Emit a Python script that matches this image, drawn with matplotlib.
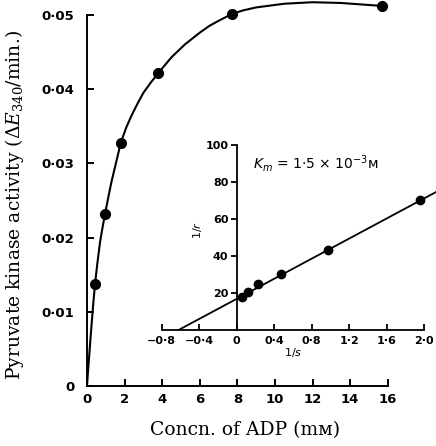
import matplotlib
matplotlib.use('Agg')
import matplotlib.pyplot as plt

# Datos de la curva principal (actividad frente a [ADP])
adp = [0.43, 0.96, 1.8, 3.78, 7.7, 15.7]
actividad = [0.0138, 0.0232, 0.0328, 0.0421, 0.0501, 0.0512]

# Curva trazada a mano
curva_x = [0, 0.05, 0.1, 0.18, 0.25, 0.33, 0.43, 0.55, 0.7, 0.83, 0.96, 1.1,
           1.3, 1.5, 1.8, 2.1, 2.4, 2.7, 3.0, 3.4, 3.78, 4.1, 4.5, 5.2, 6.0,
           6.5, 7.0, 7.7, 8.3, 9.0, 10.5, 12.0, 13.5, 14.6, 15.7]
curva_y = [0, 0.0018, 0.0035, 0.0062, 0.0085, 0.0110, 0.0138, 0.0165, 0.0195,
           0.0214, 0.0232, 0.0250, 0.0275, 0.0296, 0.0328, 0.0349, 0.0366,
           0.0381, 0.0395, 0.0409, 0.0421, 0.0431, 0.0443, 0.0460, 0.0476,
           0.0485, 0.0492, 0.0501, 0.0506, 0.0510, 0.0515, 0.0517, 0.0516,
           0.0514, 0.0512]

# Datos del recuadro (doble recíproco)
inv_s = [0.053, 0.124, 0.224, 0.472, 0.97, 1.955]
inv_v = [18.0, 20.4, 24.9, 30.3, 43.2, 70.6]
recta_x = [-0.62, 2.13]
recta_y = [0, 74.8]

xticks_main = [0, 2, 4, 6, 8, 10, 12, 14, 16]
yticks_main = [0, 0.01, 0.02, 0.03, 0.04, 0.05]
ylabels_main = ['0', '0·01', '0·02', '0·03', '0·04', '0·05']
xticks_ins = [-0.8, -0.4, 0, 0.4, 0.8, 1.2, 1.6, 2.0]
xlabels_ins = ['−0·8', '−0·4', '0', '0·4', '0·8', '1·2', '1·6', '2·0']
yticks_ins = [20, 40, 60, 80, 100]

plt.rcParams['mathtext.fontset'] = 'dejavuserif'

fig = plt.figure(figsize=(4.36, 4.46), dpi=100)

# Gráfico principal
ax = fig.add_axes([87/436, 1 - 386/446, 329/436, 386/446])
ax.plot(curva_x, curva_y, color='black', lw=1.5)
ax.plot(adp, actividad, 'o', color='black', ms=7, clip_on=False)
ax.set_xlim(0, 17.5)
ax.set_ylim(0, 0.052)
ax.spines['top'].set_visible(False)
ax.spines['right'].set_visible(False)
ax.spines['left'].set_bounds(0, 0.05)
ax.spines['bottom'].set_bounds(0, 16)
for s in ['left', 'bottom']:
    ax.spines[s].set_linewidth(1.4)
ax.set_xticks(xticks_main)
ax.set_xticklabels([str(t) for t in xticks_main], fontweight='bold')
ax.set_yticks(yticks_main)
ax.set_yticklabels(ylabels_main, fontweight='bold')
ax.tick_params(direction='in', length=5, width=1.4, labelsize=9.5)
ax.tick_params(axis='y', pad=9)
ax.tick_params(axis='x', pad=5)
ax.patch.set_alpha(0)

fig.text(15/436, 1 - 205/446, r'Pyruvate kinase activity ($\Delta E_{340}$/min.)',
         rotation=90, ha='center', va='center', fontsize=13.5, family='DejaVu Serif')
fig.text(245/436, 1 - 430/446, 'Concn. of ADP (mᴍ)', ha='center', va='center',
         fontsize=13.5, family='DejaVu Serif')

# Recuadro: 1/v frente a 1/s
ins = fig.add_axes([157/436, 1 - 330/446, 278.5/436, 194/446])
ins.patch.set_alpha(0)
ins.plot(recta_x, recta_y, color='black', lw=1.3)
ins.plot(inv_s, inv_v, 'o', color='black', ms=6)
ins.set_xlim(-0.85, 2.12)
ins.set_ylim(0, 105)
ins.spines['top'].set_visible(False)
ins.spines['right'].set_visible(False)
ins.spines['left'].set_position(('data', 0))
ins.spines['left'].set_bounds(0, 100)
ins.spines['bottom'].set_bounds(-0.8, 2.0)
for s in ['left', 'bottom']:
    ins.spines[s].set_linewidth(1.3)
ins.set_xticks(xticks_ins)
ins.set_xticklabels(xlabels_ins, fontweight='bold')
ins.set_yticks(yticks_ins)
ins.set_yticklabels([str(t) for t in yticks_ins], fontweight='bold')
ins.tick_params(axis='x', direction='in', length=4, width=1.3, labelsize=8, pad=4)
ins.tick_params(axis='y', direction='out', length=4, width=1.3, labelsize=8, pad=2)

ins.text(0.17, 90, r'$K_m$ = 1·5 × 10$^{-3}$ᴍ', fontsize=10, va='center', ha='left',
         math_fontfamily='dejavusans')
ins.text(-0.42, 54, '1/$r$', rotation=90, fontsize=8, ha='center', va='center',
         math_fontfamily='dejavusans')
ins.text(0.6, -12, '1/$s$', fontsize=8, ha='center', va='center', clip_on=False,
         math_fontfamily='dejavusans')

fig.savefig('out.png', dpi=100)
